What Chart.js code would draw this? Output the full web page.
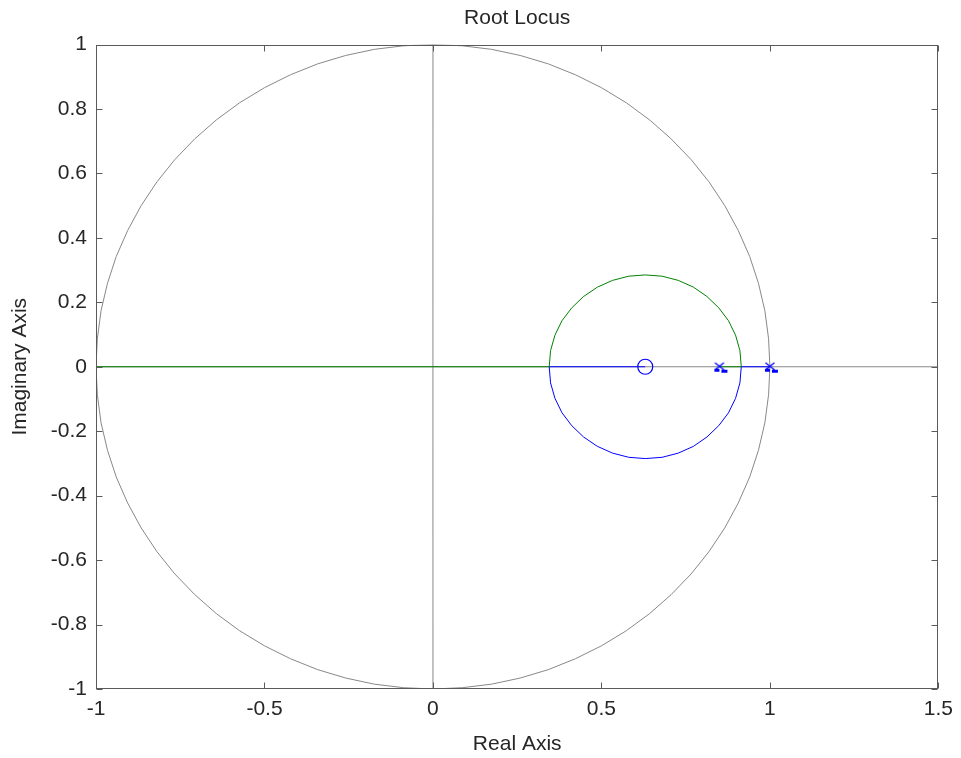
<!DOCTYPE html>
<html><head><meta charset="utf-8">
<script src="https://cdn.jsdelivr.net/npm/chart.js@4/dist/chart.umd.min.js"></script>
<style>html,body{margin:0;padding:0;background:#fff;}canvas{display:block;}</style>
</head><body>
<canvas id="c" width="961" height="758"></canvas>
<script>
// ---- data ----
const xTicks = [-1, -0.5, 0, 0.5, 1, 1.5];
const xTickLabels = ['-1', '-0.5', '0', '0.5', '1', '1.5'];
const yTicks = [-1, -0.8, -0.6, -0.4, -0.2, 0, 0.2, 0.4, 0.6, 0.8, 1];
const yTickLabels = ['-1', '-0.8', '-0.6', '-0.4', '-0.2', '0', '0.2', '0.4', '0.6', '0.8', '1'];

// unit circle (grid)
const unitCircleX = [1, 0.996, 0.985, 0.966, 0.940, 0.906, 0.866, 0.819, 0.766, 0.707, 0.643, 0.574, 0.5, 0.423, 0.342, 0.259, 0.174, 0.087, 0,
  -0.087, -0.174, -0.259, -0.342, -0.423, -0.5, -0.574, -0.643, -0.707, -0.766, -0.819, -0.866, -0.906, -0.940, -0.966, -0.985, -0.996, -1,
  -0.996, -0.985, -0.966, -0.940, -0.906, -0.866, -0.819, -0.766, -0.707, -0.643, -0.574, -0.5, -0.423, -0.342, -0.259, -0.174, -0.087, 0,
  0.087, 0.174, 0.259, 0.342, 0.423, 0.5, 0.574, 0.643, 0.707, 0.766, 0.819, 0.866, 0.906, 0.940, 0.966, 0.985, 0.996, 1];
const unitCircleY = [0, 0.087, 0.174, 0.259, 0.342, 0.423, 0.5, 0.574, 0.643, 0.707, 0.766, 0.819, 0.866, 0.906, 0.940, 0.966, 0.985, 0.996, 1,
  0.996, 0.985, 0.966, 0.940, 0.906, 0.866, 0.819, 0.766, 0.707, 0.643, 0.574, 0.5, 0.423, 0.342, 0.259, 0.174, 0.087, 0,
  -0.087, -0.174, -0.259, -0.342, -0.423, -0.5, -0.574, -0.643, -0.707, -0.766, -0.819, -0.866, -0.906, -0.940, -0.966, -0.985, -0.996, -1,
  -0.996, -0.985, -0.966, -0.940, -0.906, -0.866, -0.819, -0.766, -0.707, -0.643, -0.574, -0.5, -0.423, -0.342, -0.259, -0.174, -0.087, 0];

// grid axes lines
const gridHX = [-1, 1.5];
const gridHY = [0, 0];
const gridVX = [0, 0];
const gridVY = [-1, 1];

// locus branch 1 (green): upper arc + real axis segments
const greenArcX = [0.915, 0.911, 0.898, 0.877, 0.848, 0.813, 0.773, 0.728, 0.680, 0.630, 0.581, 0.533, 0.488, 0.447, 0.412, 0.383, 0.362, 0.349, 0.345];
const greenArcY = [0, 0.050, 0.098, 0.143, 0.183, 0.218, 0.247, 0.268, 0.281, 0.285, 0.281, 0.268, 0.247, 0.218, 0.183, 0.143, 0.098, 0.050, 0];
const greenRealLeftX = [-1, 0.345];
const greenRealRightX = [0.85, 0.915];

// locus branch 2 (blue): lower arc + real axis segments
const blueArcX = [0.915, 0.911, 0.898, 0.877, 0.848, 0.813, 0.773, 0.728, 0.680, 0.630, 0.581, 0.533, 0.488, 0.447, 0.412, 0.383, 0.362, 0.349, 0.345];
const blueArcY = [0, -0.050, -0.098, -0.143, -0.183, -0.218, -0.247, -0.268, -0.281, -0.285, -0.281, -0.268, -0.247, -0.218, -0.183, -0.143, -0.098, -0.050, 0];
const blueRealLeftX = [0.345, 0.63];
const blueRealRightX = [0.915, 1.0];

// zeros and poles
const zerosX = [0.63];
const zerosY = [0];
const polesX = [0.85, 1.0];
const polesY = [0, 0];

// ---- helpers ----
const zip = (xs, ys) => xs.map((x, i) => ({x: x, y: ys[i]}));
const onAxis = xs => xs.map(x => ({x: x, y: 0}));
const FONT = '"Liberation Sans", Arial, "DejaVu Sans", sans-serif';
const TEXT = '#262626';
const GRAY = '#888888';
const GREEN = '#008000';
const BLUE = '#0000ff';

function line(data, color, order) {
  return {data: data, showLine: true, borderColor: color, borderWidth: 1, pointRadius: 0,
    fill: false, tension: 0, order: order, xAxisID: 'x', yAxisID: 'y'};
}

// pole marker (x with small bars underneath, as in the picture)
function poleMarker() {
  const c = document.createElement('canvas');
  c.width = 24; c.height = 24;
  const g = c.getContext('2d');
  g.strokeStyle = BLUE; g.lineWidth = 1.3;
  g.beginPath();
  g.moveTo(7.5, 8); g.lineTo(16.5, 15);
  g.moveTo(16.5, 8); g.lineTo(7.5, 15);
  g.stroke();
  g.fillStyle = BLUE;
  g.fillRect(7, 14, 5, 3);
  g.fillRect(14, 15, 6, 3);
  return c;
}

const framePlugin = {
  id: 'frame',
  afterDraw(chart) {
    const {ctx, chartArea: a, scales} = chart;
    const L = Math.round(a.left) + 0.5, R = Math.round(a.right) - 0.5;
    const T = Math.round(a.top) + 0.5, B = Math.round(a.bottom) - 0.5;
    ctx.save();
    ctx.strokeStyle = '#5a5a5a';
    ctx.lineWidth = 1;
    ctx.strokeRect(L, T, R - L, B - T);
    const tl = 6;
    ctx.beginPath();
    xTicks.forEach(v => {
      const px = Math.round(scales.x.getPixelForValue(v)) + 0.5;
      ctx.moveTo(px, B); ctx.lineTo(px, B - tl);
      ctx.moveTo(px, T); ctx.lineTo(px, T + tl);
    });
    yTicks.forEach(v => {
      const py = Math.round(scales.y.getPixelForValue(v)) + 0.5;
      ctx.moveTo(L, py); ctx.lineTo(L + tl, py);
      ctx.moveTo(R, py); ctx.lineTo(R - tl, py);
    });
    ctx.stroke();
    ctx.restore();
  }
};

new Chart(document.getElementById('c'), {
  type: 'scatter',
  data: {
    datasets: [
      line(zip(unitCircleX, unitCircleY), GRAY, 20),
      line(zip(gridHX, gridHY), GRAY, 20),
      line(zip(gridVX, gridVY), GRAY, 20),
      line(zip(greenArcX, greenArcY), GREEN, 10),
      line(onAxis(greenRealLeftX), GREEN, 10),
      line(onAxis(greenRealRightX), GREEN, 10),
      line(zip(blueArcX, blueArcY), BLUE, 10),
      line(onAxis(blueRealLeftX), BLUE, 10),
      line(onAxis(blueRealRightX), BLUE, 10),
      {data: zip(zerosX, zerosY), showLine: false, pointStyle: 'circle', pointRadius: 7.5,
        borderColor: BLUE, backgroundColor: 'rgba(0,0,0,0)', borderWidth: 1.2, order: 1, xAxisID: 'x', yAxisID: 'y'},
      {data: zip(polesX, polesY), showLine: false, pointStyle: poleMarker(), pointRadius: 6, order: 1, xAxisID: 'x', yAxisID: 'y'}
    ]
  },
  options: {
    responsive: false,
    animation: false,
    devicePixelRatio: 1,
    layout: {padding: {left: 0, right: 21, top: 0, bottom: 0}},
    plugins: {
      legend: {display: false},
      tooltip: {enabled: false},
      title: {display: false}
    },
    scales: {
      x: {
        type: 'linear', position: 'bottom', min: -1, max: 1.5,
        afterBuildTicks: s => { s.ticks = xTicks.map(v => ({value: v})); },
        afterFit: s => { s.height = 69; },
        ticks: {callback: v => xTickLabels[xTicks.indexOf(v)], padding: 8, color: TEXT,
          font: {family: FONT, size: 21}, maxRotation: 0, autoSkip: false},
        grid: {display: false, drawTicks: false, tickLength: 0},
        border: {display: false},
        title: {display: true, text: 'Real Axis', color: TEXT,
          font: {family: FONT, size: 21, lineHeight: 1.2}, padding: {top: 0, bottom: 1}}
      },
      top: {
        type: 'linear', position: 'top', min: -1, max: 1.5,
        afterFit: s => { s.height = 44.5; },
        ticks: {display: false},
        grid: {display: false, drawTicks: false, tickLength: 0},
        border: {display: false},
        title: {display: true, text: 'Root Locus', color: TEXT,
          font: {family: FONT, size: 21, lineHeight: 1.2}, padding: {top: 6, bottom: 0}}
      },
      y: {
        type: 'linear', min: -1, max: 1,
        afterBuildTicks: s => { s.ticks = yTicks.map(v => ({value: v})); },
        afterFit: s => { s.width = 96; },
        ticks: {callback: v => yTickLabels[yTicks.indexOf(v)], padding: 9, color: TEXT,
          font: {family: FONT, size: 21}, autoSkip: false},
        grid: {display: false, drawTicks: false, tickLength: 0},
        border: {display: false},
        title: {display: true, text: 'Imaginary Axis', color: TEXT,
          font: {family: FONT, size: 21, lineHeight: 1.2}, padding: {top: 8, bottom: 0}}
      }
    }
  },
  plugins: [framePlugin]
});
</script>
</body></html>
